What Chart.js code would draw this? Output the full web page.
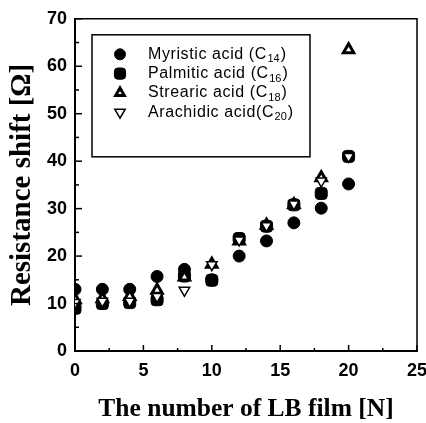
<!DOCTYPE html>
<html>
<head>
<meta charset="utf-8">
<script src="https://cdn.jsdelivr.net/npm/chart.js@4/dist/chart.umd.min.js"></script>
<style>
  html, body { margin: 0; padding: 0; background: #fff; overflow: hidden; }
  #wrap { width: 426px; height: 423px; }
</style>
</head>
<body>
<div id="wrap"><canvas id="c"></canvas></div>
<script>
// Number of LB film layers
const nFilms = [0, 2, 4, 6, 8, 10, 12, 14, 16, 18, 20];

// Resistance shift [Ω] per fatty acid
const myristic  = [13, 13, 13, 15.7, 17.2, 15, 20, 23.2, 27, 30.1, 35.2];
const palmitic  = [9, 10, 10.2, 10.8, 15.8, 14.9, 23.7, 26.3, 30.8, 33.2, 41];
const stearic   = [10.8, 11, 11.5, 12.8, 15.6, 18.3, 23.2, 26.5, 30.8, 36.5, 63.5];
const arachidic = [10.2, 10.5, 10.5, 11.5, 12.8, 18.2, 23.4, 26.4, 31, 35.8, 41];

// Legend text: name, carbon-count subscript, closing part
const legendNames = ['Myristic acid (C', 'Palmitic acid (C', 'Strearic acid (C', 'Arachidic acid(C'];
const legendSubs  = ['14', '16', '18', '20'];
const legendTail  = [')', ')', ')', ')'];

const xTitle = 'The number of LB film [N]';
const yTitle = 'Resistance shift [Ω]';

const toPoints = (ys) => nFilms.map((x, i) => ({ x: x, y: ys[i] }));

const sansFont = '"Liberation Sans", Arial, sans-serif';
const serifFont = '"Liberation Serif", "Times New Roman", serif';

// Frame, inward tick marks, and the boxed legend inside the plot
const framePlugin = {
  id: 'frame',
  afterDatasetsDraw(chart) {
    const { ctx, chartArea: a, scales } = chart;
    ctx.save();
    ctx.strokeStyle = '#000';
    // top & right border
    ctx.lineWidth = 1.5;
    ctx.beginPath();
    ctx.moveTo(a.left, a.top); ctx.lineTo(a.right, a.top); ctx.lineTo(a.right, a.bottom);
    ctx.stroke();

    // inward ticks (major at labels, minor halfway)
    const yt = scales.y.ticks.map(t => t.value);
    yt.forEach((v, i) => {
      const py = scales.y.getPixelForValue(v);
      ctx.beginPath(); ctx.moveTo(a.left, py); ctx.lineTo(a.left + 7, py); ctx.stroke();
      if (i < yt.length - 1) {
        const pm = scales.y.getPixelForValue((v + yt[i + 1]) / 2);
        ctx.beginPath(); ctx.moveTo(a.left, pm); ctx.lineTo(a.left + 4, pm); ctx.stroke();
      }
    });
    const xt = scales.x.ticks.map(t => t.value);
    xt.forEach((v, i) => {
      const px = scales.x.getPixelForValue(v);
      ctx.beginPath(); ctx.moveTo(px, a.bottom); ctx.lineTo(px, a.bottom - 6); ctx.stroke();
      if (i < xt.length - 1) {
        const pm = scales.x.getPixelForValue((v + xt[i + 1]) / 2);
        ctx.beginPath(); ctx.moveTo(pm, a.bottom); ctx.lineTo(pm, a.bottom - 3); ctx.stroke();
      }
    });

    // legend box
    const bx = a.left + 17, by = a.top + 16, bw = 218, bh = 122;
    ctx.fillStyle = '#fff';
    ctx.fillRect(bx, by, bw, bh);
    ctx.lineWidth = 1.5;
    ctx.strokeRect(bx, by, bw, bh);

    chart.data.datasets.forEach((ds, i) => {
      const ry = by + 19.5 + i * 19.3;
      const mx = bx + 28;
      ctx.strokeStyle = '#000';
      ctx.lineWidth = ds.legendBorder;
      ctx.fillStyle = ds.backgroundColor;
      Chart.helpers.drawPoint(ctx, {
        pointStyle: ds.pointStyle,
        rotation: ds.rotation || 0,
        radius: ds.legendRadius,
        borderWidth: ds.legendBorder
      }, mx, ry);

      ctx.fillStyle = '#000';
      ctx.textBaseline = 'middle';
      ctx.textAlign = 'left';
      ctx.letterSpacing = '0.6px';
      ctx.font = '16px ' + sansFont;
      let tx = bx + 56;
      ctx.fillText(legendNames[i], tx, ry);
      tx += ctx.measureText(legendNames[i]).width;
      ctx.letterSpacing = '0px';
      ctx.font = '11px ' + sansFont;
      ctx.fillText(legendSubs[i], tx + 0.5, ry + 5);
      tx += ctx.measureText(legendSubs[i]).width + 1.5;
      ctx.font = '16px ' + sansFont;
      ctx.fillText(legendTail[i], tx, ry);
    });
    ctx.restore();
  }
};

new Chart(document.getElementById('c'), {
  type: 'scatter',
  data: {
    datasets: [
      { label: 'Myristic acid', data: toPoints(myristic), pointStyle: 'circle',
        pointRadius: 6, legendRadius: 5.5, legendBorder: 1, backgroundColor: '#000', borderColor: '#000', borderWidth: 1, order: 2 },
      { label: 'Palmitic acid', data: toPoints(palmitic), pointStyle: 'rectRounded',
        pointRadius: 7, legendRadius: 6.5, legendBorder: 1, backgroundColor: '#000', borderColor: '#000', borderWidth: 1, order: 3 },
      { label: 'Strearic acid', data: toPoints(stearic), pointStyle: 'triangle',
        pointRadius: 6, legendRadius: 5, legendBorder: 3, backgroundColor: '#fff', borderColor: '#000', borderWidth: 3, order: 1 },
      { label: 'Arachidic acid', data: toPoints(arachidic), pointStyle: 'triangle', rotation: 180,
        pointRotation: 180, pointRadius: 6, legendRadius: 6, legendBorder: 1.5, backgroundColor: '#fff', borderColor: '#000', borderWidth: 1.5, order: 0 }
    ]
  },
  options: {
    responsive: true,
    maintainAspectRatio: false,
    animation: false,
    layout: { padding: { left: 4, right: 9, top: 7, bottom: 0 } },
    plugins: { legend: { display: false }, tooltip: { enabled: false } },
    scales: {
      x: {
        type: 'linear', min: 0, max: 25,
        ticks: { stepSize: 5, color: '#000', padding: 9,
                 font: { family: sansFont, size: 18, weight: 'bold' } },
        grid: { display: false, drawTicks: false },
        border: { display: true, color: '#000', width: 2 },
        title: { display: true, text: xTitle, color: '#000', padding: { top: 0, bottom: -1.5 },
                 font: { family: serifFont, size: 25.5, weight: 'bold' } },
        // fixed axis band; last tick label may run to the canvas edge
        afterFit(scale) { scale.paddingRight = 0; scale.height = 72; }
      },
      y: {
        type: 'linear', min: 0, max: 70,
        ticks: { stepSize: 10, color: '#000', padding: 8,
                 font: { family: sansFont, size: 18, weight: 'bold' } },
        grid: { display: false, drawTicks: false },
        border: { display: true, color: '#000', width: 2 },
        title: { display: true, text: yTitle, color: '#000', padding: { top: 1, bottom: 0 },
                 font: { family: serifFont, size: 29, weight: 'bold' } },
        afterFit(scale) { scale.width = 71; }
      }
    }
  },
  plugins: [framePlugin]
});
</script>
</body>
</html>
